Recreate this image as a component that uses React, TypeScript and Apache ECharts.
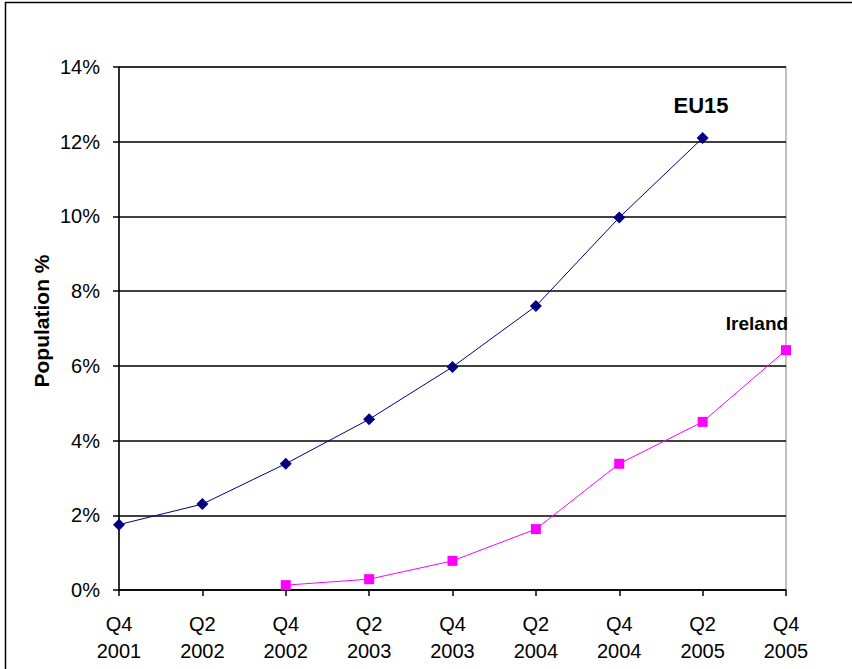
import React, { useEffect, useRef } from "react";
import * as echarts from "echarts";

const categories = [
  "Q4\n2001", "Q2\n2002", "Q4\n2002", "Q2\n2003", "Q4\n2003",
  "Q2\n2004", "Q4\n2004", "Q2\n2005", "Q4\n2005",
];
const eu15 = [1.75, 2.3, 3.38, 4.57, 5.97, 7.6, 9.97, 12.1, null];
const ireland = [null, null, 0.13, 0.29, 0.78, 1.63, 3.38, 4.5, 6.42];
const yTicks = { min: 0, max: 14, interval: 2 };

export default function App() {
  const ref = useRef<HTMLDivElement>(null);
  useEffect(() => {
    const chart = echarts.init(ref.current!, null, { renderer: "svg" });
    const font = "'Liberation Sans', Arial, sans-serif";
    chart.setOption({
      animation: false,
      backgroundColor: "#ffffff",
      grid: {
        left: 119, right: 66, top: 67, bottom: 79,
        show: true, borderColor: "#808080", borderWidth: 1,
      },
      xAxis: {
        type: "category",
        data: categories,
        boundaryGap: false,
        axisLine: { lineStyle: { color: "#000", width: 1.5 } },
        axisTick: { show: true, length: 6, lineStyle: { color: "#000", width: 1.5 } },
        axisLabel: {
          color: "#000", fontFamily: font, fontSize: 20,
          lineHeight: 27, margin: 20,
        },
        splitLine: { show: false },
      },
      yAxis: {
        type: "value",
        min: yTicks.min, max: yTicks.max, interval: yTicks.interval,
        axisLine: { show: true, lineStyle: { color: "#000", width: 1.5 } },
        axisTick: { show: true, length: 6, lineStyle: { color: "#000", width: 1.5 } },
        axisLabel: {
          color: "#000", fontFamily: font, fontSize: 20, margin: 19,
          formatter: "{value}%",
        },
        splitLine: { show: true, lineStyle: { color: "#000", width: 1.5 } },
      },
      series: [
        {
          name: "EU15",
          type: "line",
          data: eu15,
          connectNulls: false,
          symbol: "diamond",
          symbolSize: 12,
          itemStyle: { color: "#000080" },
          lineStyle: { color: "#000080", width: 1 },
        },
        {
          name: "Ireland",
          type: "line",
          data: ireland,
          symbol: "rect",
          symbolSize: 10,
          itemStyle: { color: "#ff00ff" },
          lineStyle: { color: "#ff00ff", width: 1 },
        },
      ],
      graphic: [
        {
          type: "rect",
          shape: { x: 5.5, y: 2.5, width: 900, height: 700 },
          style: { fill: "none", stroke: "#000", lineWidth: 1.5 },
          silent: true,
        },
        {
          type: "text",
          x: 41, y: 321,
          rotation: Math.PI / 2,
          style: {
            text: "Population %", fill: "#000", font: `bold 21px ${font}`,
            textAlign: "center", textVerticalAlign: "middle",
          },
        },
        {
          type: "text",
          x: 701, y: 105,
          style: {
            text: "EU15", fill: "#000", font: `bold 22px ${font}`,
            textAlign: "center", textVerticalAlign: "middle",
          },
        },
        {
          type: "text",
          x: 757, y: 323,
          style: {
            text: "Ireland", fill: "#000", font: `bold 19px ${font}`,
            textAlign: "center", textVerticalAlign: "middle",
          },
        },
      ],
    });
    return () => chart.dispose();
  }, []);
  return (
    <div
      ref={ref}
      style={{ position: "absolute", left: 0, top: 0, width: 852, height: 669 }}
    />
  );
}
